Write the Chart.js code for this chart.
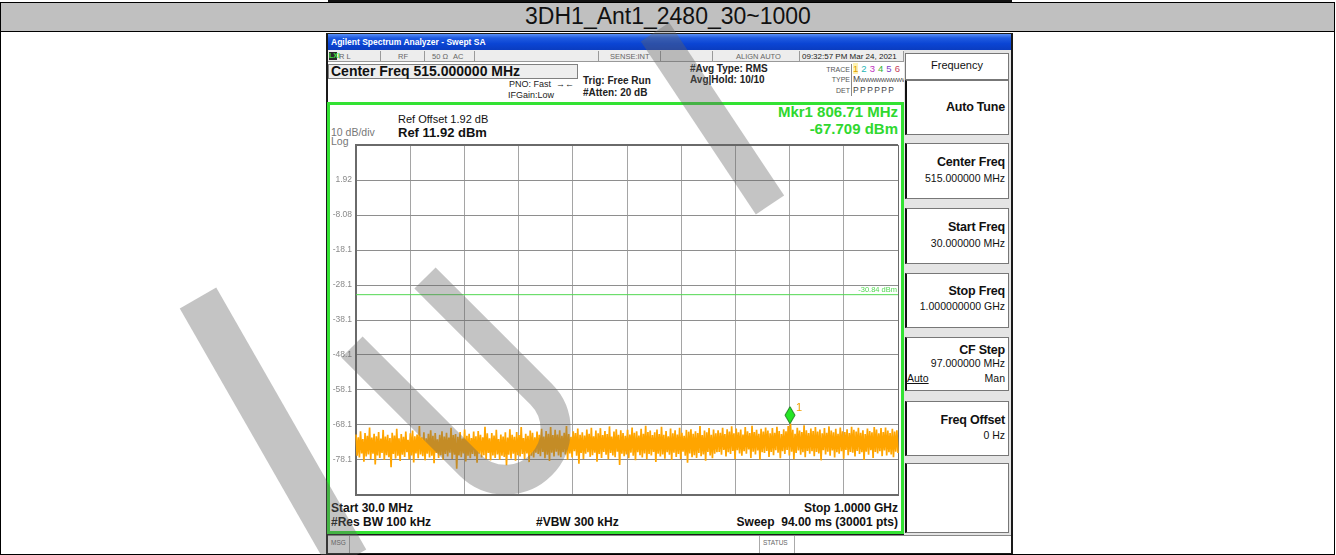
<!DOCTYPE html>
<html><head><meta charset="utf-8">
<script src="https://cdn.jsdelivr.net/npm/chart.js@4.4.0/dist/chart.umd.min.js"></script>
<style>
html,body{margin:0;padding:0;background:#fff;}
body{position:relative;width:1336px;height:555px;overflow:hidden;font-family:"Liberation Sans",Arial,sans-serif;}
.a{position:absolute;white-space:pre;line-height:1;}
.b{font-weight:bold;}
.box{position:absolute;box-sizing:border-box;}
.sk{position:absolute;box-sizing:border-box;left:905px;width:104px;background:#fff;border:1px solid #777;border-left:2px solid #111;}
.skt{position:absolute;right:331px;font-weight:bold;font-size:12.5px;line-height:1;white-space:pre;color:#111;letter-spacing:-0.2px;}
.skv{position:absolute;right:331px;font-size:10.5px;line-height:1;white-space:pre;color:#111;}
.st{position:absolute;font-size:7.5px;line-height:1;color:#666;white-space:pre;}
.sd{position:absolute;top:51px;height:11px;width:1px;background:#9a9a9a;}
#cv{position:absolute;left:326px;top:136px;}
#wm{position:absolute;left:0;top:0;pointer-events:none;}
</style></head><body>

<!-- outer table -->
<div class="box" style="left:328px;top:0;width:684px;height:2px;background:#111;"></div>
<div class="box" style="left:0;top:2px;width:1335px;height:553px;border:1px solid #000;"></div>
<div class="box" style="left:1px;top:3px;width:1333px;height:29px;background:#c0c0c0;border-bottom:1px solid #000;"></div>
<div class="a" style="left:0;width:1336px;text-align:center;top:5px;font-size:23px;color:#111;">3DH1_Ant1_2480_30~1000</div>

<!-- screenshot frame -->
<div class="box" style="left:326px;top:33px;width:687px;height:521px;background:#1a1a1a;"></div>
<div class="box" style="left:328px;top:34px;width:683px;height:16px;background:linear-gradient(to bottom,#5a8ff5 0%,#1f5be0 25%,#0b45d4 60%,#0a3cc0 100%);"></div>
<div class="a b" style="left:331px;top:38px;font-size:8.5px;color:#fff;">Agilent Spectrum Analyzer - Swept SA</div>

<!-- status row -->
<div class="box" style="left:328px;top:50px;width:683px;height:12px;background:#ededed;border-bottom:1px solid #999;"></div>
<div class="box" style="left:329px;top:52px;width:8px;height:8px;background:#2a2a2a;"></div>
<div class="a b" style="left:329px;top:52px;font-size:7px;color:#3ce03c;">LXI</div>
<div class="st" style="left:339px;top:53px;">R L</div>
<div class="sd" style="left:380px;"></div>
<div class="st" style="left:398px;top:53px;">RF</div>
<div class="sd" style="left:424px;"></div>
<div class="st" style="left:432px;top:53px;">50 Ω</div>
<div class="st" style="left:453px;top:53px;">AC</div>
<div class="sd" style="left:474px;"></div>
<div class="sd" style="left:598px;"></div>
<div class="st" style="left:610px;top:53px;">SENSE:INT</div>
<div class="sd" style="left:660px;"></div>
<div class="sd" style="left:712px;"></div>
<div class="st" style="left:736px;top:53px;">ALIGN AUTO</div>
<div class="sd" style="left:799px;"></div>
<div class="st" style="left:802px;top:53px;font-size:8px;color:#222;">09:32:57 PM Mar 24, 2021</div>
<div class="sd" style="left:903px;"></div>

<!-- header info area -->
<div class="box" style="left:328px;top:62px;width:577px;height:41px;background:#fff;"></div>
<div class="box" style="left:328px;top:64px;width:250px;height:15px;background:#eeeeee;border:1px solid #808080;"></div>
<div class="a b" style="left:331px;top:64px;font-size:14px;color:#111;">Center Freq 515.000000 MHz</div>
<div class="a" style="left:509px;top:80px;font-size:9px;color:#222;">PNO: Fast  →←</div>
<div class="a" style="left:508px;top:91px;font-size:9px;color:#222;">IFGain:Low</div>
<div class="a b" style="left:583px;top:76px;font-size:10px;color:#222;">Trig: Free Run</div>
<div class="a b" style="left:583px;top:88px;font-size:10px;color:#222;">#Atten: 20 dB</div>
<div class="a b" style="left:690px;top:64px;font-size:10px;color:#222;">#Avg Type: RMS</div>
<div class="a b" style="left:690px;top:75px;font-size:10px;color:#222;">Avg|Hold: 10/10</div>
<div class="a" style="right:486px;top:66px;font-size:7px;color:#555;">TRACE</div>
<div class="a" style="right:486px;top:76px;font-size:7px;color:#555;">TYPE</div>
<div class="a" style="right:486px;top:87px;font-size:7px;color:#555;">DET</div>
<div class="box" style="left:851px;top:64px;width:52px;height:32px;border-left:1px solid #888;"></div>
<div class="a" style="left:853px;top:64px;font-size:9.5px;letter-spacing:0.2px;"><span style="color:#e0a000;background:#fff3b0;">1</span> <span style="color:#1fb5b5">2</span> <span style="color:#c030c0">3</span> <span style="color:#33b033">4</span> <span style="color:#8040c8">5</span> <span style="color:#c83c5a">6</span></div>
<div class="a" style="left:853px;top:75px;font-size:8.5px;color:#444;">M<span style="font-size:6px;letter-spacing:-0.5px;">WWWWWWWWW</span></div>
<div class="a" style="left:853px;top:86px;font-size:8.5px;color:#444;letter-spacing:1.4px;">PPPPPP</div>

<!-- softkey panel -->
<div class="box" style="left:904px;top:50px;width:107px;height:503px;background:#e4e4e4;"></div>
<div class="sk" style="top:53px;height:27px;border-left:1px solid #777;"></div>
<div class="a" style="left:905px;width:104px;text-align:center;top:60px;font-size:11px;color:#111;">Frequency</div>
<div class="sk" style="top:80px;height:55px;"></div>
<div class="skt" style="top:101px;">Auto Tune</div>
<div class="sk" style="top:143px;height:56px;"></div>
<div class="skt" style="top:156px;">Center Freq</div>
<div class="skv" style="top:173px;">515.000000 MHz</div>
<div class="sk" style="top:208px;height:56px;"></div>
<div class="skt" style="top:221px;">Start Freq</div>
<div class="skv" style="top:238px;">30.000000 MHz</div>
<div class="sk" style="top:273px;height:55px;"></div>
<div class="skt" style="top:285px;">Stop Freq</div>
<div class="skv" style="top:301px;">1.000000000 GHz</div>
<div class="sk" style="top:337px;height:54px;"></div>
<div class="skt" style="top:344px;">CF Step</div>
<div class="skv" style="top:358px;">97.000000 MHz</div>
<div class="a" style="left:907px;top:373px;font-size:10.5px;color:#111;text-decoration:underline;">Auto</div>
<div class="skv" style="top:373px;">Man</div>
<div class="sk" style="top:401px;height:55px;"></div>
<div class="skt" style="top:414px;">Freq Offset</div>
<div class="skv" style="top:430px;">0 Hz</div>
<div class="sk" style="top:463px;height:70px;"></div>

<!-- display frame -->
<div class="box" style="left:327px;top:102px;width:577px;height:432px;background:#fff;border:3px solid #33e233;"></div>
<div class="a b" style="right:438px;top:104px;font-size:15px;color:#2fd82f;">Mkr1 806.71 MHz</div>
<div class="a b" style="right:438px;top:121px;font-size:15px;color:#2fd82f;">-67.709 dBm</div>
<div class="a" style="left:398px;top:114px;font-size:11px;color:#111;">Ref Offset 1.92 dB</div>
<div class="a b" style="left:398px;top:126px;font-size:13px;color:#111;">Ref 11.92 dBm</div>
<div class="a" style="left:331px;top:127px;font-size:10.5px;color:#777;">10 dB/div</div>
<div class="a" style="left:331px;top:136px;font-size:10.5px;color:#777;">Log</div>
<div class="a b" style="left:331px;top:502px;font-size:12px;color:#111;">Start 30.0 MHz</div>
<div class="a b" style="right:438px;top:502px;font-size:12px;color:#111;">Stop 1.0000 GHz</div>
<div class="a b" style="left:331px;top:516px;font-size:12px;color:#111;">#Res BW 100 kHz</div>
<div class="a b" style="left:536px;top:516px;font-size:12px;color:#111;">#VBW 300 kHz</div>
<div class="a b" style="right:438px;top:516px;font-size:12px;color:#111;">Sweep  94.00 ms (30001 pts)</div>

<!-- msg row -->
<div class="box" style="left:328px;top:535px;width:683px;height:18px;background:#fff;border-top:1px solid #888;"></div>
<div class="st" style="left:331px;top:540px;font-size:6.5px;">MSG</div>
<div class="box" style="left:349px;top:536px;width:1px;height:17px;background:#aaa;"></div>
<div class="box" style="left:759px;top:536px;width:1px;height:17px;background:#aaa;"></div>
<div class="st" style="left:763px;top:540px;font-size:6.5px;">STATUS</div>
<div class="box" style="left:794px;top:536px;width:1px;height:17px;background:#aaa;"></div>

<canvas id="cv" width="578" height="368"></canvas>

<!-- translucent watermark strokes laid over the page -->
<svg id="wm" width="1336" height="555" viewBox="0 0 1336 555">
  <g fill="none" stroke="rgba(100,100,100,0.38)" stroke-linecap="butt" stroke-linejoin="round">
    <path d="M198,298 L348,560" stroke-width="42"/>
    <path d="M352,347 L470,465 A50,50 0 0 0 541,394 L425,278" stroke-width="30"/>
    <path d="M655,32 L770,205" stroke-width="34"/>
  </g>
</svg>

<script>
// ---- axis definitions ----
const freqStartMHz = 30;
const freqStopMHz = 1000;
const xGridMHz = [30, 127, 224, 321, 418, 515, 612, 709, 806, 903, 1000];
const yRefDbm = 11.92;
const yBottomDbm = -88.08;
const yGridDbm = [-88.08, -78.08, -68.08, -58.08, -48.08, -38.08, -28.08, -18.08, -8.08, 1.92, 11.92];
const yTickLabels = ['', '-78.1', '-68.1', '-58.1', '-48.1', '-38.1', '-28.1', '-18.1', '-8.08', '1.92', ''];

// ---- display line & marker ----
const displayLineDbm = -30.84;
const displayLineText = '-30.84 dBm';
const markerFreqMHz = 806.71;
const markerDbm = -67.709;
const markerLabel = '1';

// ---- trace (dBm), read left→right across the sweep ----
const traceDbm = [
-70.8,-76.9,-71.6,-77.4,-69.9,-76.2,-72.1,-78.6,-70.4,-77.1,-71.2,-76.5,-68.8,-77.8,-71.7,-76.3,-70.6,-79.4,-71.3,-76.8,
-70.1,-77.5,-72.0,-76.1,-69.5,-78.1,-71.4,-76.7,-70.9,-77.3,-71.8,-80.2,-70.3,-76.4,-71.1,-77.7,-69.2,-76.9,-71.9,-78.4,
-70.7,-76.6,-71.5,-77.2,-70.0,-75.9,-72.3,-77.9,-70.5,-76.8,-69.7,-78.8,-71.3,-76.2,-70.8,-77.6,-68.4,-76.5,-71.6,-77.0,
-70.2,-78.2,-71.9,-76.3,-70.6,-77.4,-69.6,-76.9,-71.2,-79.0,-70.4,-76.1,-72.2,-77.5,-70.9,-76.7,-69.9,-78.0,-71.4,-76.4,
-70.3,-77.1,-71.7,-76.0,-68.9,-77.8,-71.0,-76.6,-70.7,-80.6,-71.5,-76.8,-70.1,-77.3,-72.0,-76.2,-69.4,-78.5,-71.2,-76.9,
-70.6,-77.6,-71.8,-76.4,-70.0,-77.0,-71.3,-78.9,-69.8,-76.3,-70.9,-77.4,-71.6,-76.7,-68.6,-77.9,-70.5,-76.1,-71.9,-78.2,
-70.4,-76.8,-71.1,-77.5,-69.5,-76.5,-72.1,-78.0,-70.8,-76.9,-71.4,-77.2,-70.2,-79.6,-71.7,-76.6,-69.3,-77.7,-70.9,-76.3,
-71.5,-78.3,-70.1,-76.7,-71.0,-77.1,-68.7,-76.4,-71.8,-77.8,-70.6,-76.2,-71.2,-78.7,-69.7,-76.9,-70.3,-77.4,-71.6,-76.0,
-70.0,-76.4,-70.9,-77.0,-69.2,-75.8,-71.4,-77.6,-69.8,-76.6,-70.6,-78.4,-68.7,-76.0,-71.0,-77.1,-69.5,-75.7,-70.8,-76.8,
-69.6,-77.3,-71.2,-75.9,-70.3,-76.5,-68.4,-78.0,-70.7,-76.2,-71.5,-77.4,-69.9,-75.6,-70.4,-76.9,-69.1,-79.2,-70.9,-76.1,
-70.2,-77.8,-71.1,-76.3,-69.4,-75.9,-70.6,-77.2,-68.9,-76.7,-71.3,-76.0,-69.7,-78.6,-70.5,-76.4,-69.0,-77.5,-71.0,-75.8,
-69.8,-76.6,-70.7,-77.9,-68.5,-76.1,-71.4,-76.8,-70.0,-77.3,-69.3,-75.7,-70.9,-79.5,-69.6,-76.3,-70.4,-77.0,-71.2,-76.5,
-69.5,-77.6,-70.8,-76.0,-68.8,-76.9,-70.3,-78.2,-69.9,-75.9,-71.1,-76.7,-69.2,-77.4,-70.6,-76.2,-68.3,-77.9,-70.1,-76.4,
-69.7,-76.8,-71.0,-75.8,-70.2,-78.7,-69.4,-76.3,-70.7,-77.1,-68.6,-76.5,-70.9,-77.7,-69.8,-75.9,-71.3,-76.6,-69.1,-78.1,
-70.5,-76.0,-69.6,-77.2,-70.8,-76.4,-68.9,-77.8,-70.3,-75.7,-71.2,-76.9,-69.5,-78.9,-70.0,-76.2,-69.3,-77.3,-70.6,-76.7,
-69.9,-77.5,-70.4,-76.1,-68.4,-77.0,-71.0,-76.5,-69.7,-78.3,-70.2,-75.8,-69.0,-76.8,-70.9,-77.6,-69.4,-76.3,-70.5,-75.9,
-69.6,-75.8,-70.3,-76.6,-68.9,-75.2,-70.7,-77.1,-69.3,-75.9,-70.0,-76.4,-68.5,-75.5,-70.5,-77.8,-69.1,-75.3,-70.2,-76.2,
-69.4,-76.9,-70.8,-75.6,-68.7,-76.3,-69.9,-75.1,-70.4,-77.5,-68.3,-75.7,-70.1,-76.5,-69.5,-75.4,-70.6,-78.0,-69.2,-75.9,
-70.0,-76.1,-68.8,-75.5,-69.7,-77.2,-70.5,-75.8,-69.0,-76.7,-70.3,-75.3,-68.6,-76.0,-69.8,-77.6,-70.7,-75.6,-69.3,-76.4,
-69.9,-75.2,-68.4,-76.8,-67.7,-75.7,-69.5,-77.9,-70.6,-76.1,-68.9,-75.4,-69.7,-76.6,-70.1,-75.9,-68.2,-77.3,-69.6,-75.5,
-70.4,-76.3,-69.1,-75.6,-69.8,-77.0,-68.7,-75.8,-70.0,-76.2,-69.4,-78.2,-70.5,-75.3,-69.0,-76.5,-70.3,-75.7,-68.5,-76.9,
-69.7,-75.4,-70.2,-77.4,-69.2,-75.9,-70.6,-76.3,-68.8,-75.6,-69.9,-77.7,-70.1,-75.2,-69.3,-76.7,-70.4,-75.8,-68.6,-76.0,
-69.5,-77.1,-70.0,-75.5,-68.9,-76.4,-70.3,-75.9,-69.6,-78.1,-70.7,-75.7,-69.1,-76.6,-69.8,-75.3,-70.2,-77.5,-68.7,-75.8,
-69.4,-76.2,-70.5,-75.6,-69.0,-77.0,-70.1,-75.4,-68.8,-76.8,-69.7,-75.9,-70.4,-76.5,-69.2,-77.3,-70.0,-75.7,-69.6,-76.1
];
const tracePointLabels = traceDbm.map((_, i) => String(i));

// ---- styles ----
const traceColor = '#ffa500';
const displayLineColor = '#52d852';
const frameColor = '#6a6a6a';

function markerImage() {
  const c = document.createElement('canvas');
  c.width = 12; c.height = 36;
  const g = c.getContext('2d');
  g.beginPath();
  g.moveTo(6, 1); g.lineTo(11, 9.5); g.lineTo(6, 18); g.lineTo(1, 9.5); g.closePath();
  g.fillStyle = '#25e625'; g.fill();
  g.lineWidth = 1; g.strokeStyle = '#1d7d1d'; g.stroke();
  return c;
}

const overlayText = {
  id: 'overlayText',
  afterDatasetsDraw(chart) {
    const { ctx, chartArea } = chart;
    const xs = chart.scales.x, ys = chart.scales.y;
    ctx.save();
    ctx.font = '7.5px "Liberation Sans", Arial, sans-serif';
    ctx.fillStyle = displayLineColor;
    ctx.textAlign = 'right';
    ctx.textBaseline = 'bottom';
    ctx.fillText(displayLineText, chartArea.right - 1, ys.getPixelForValue(displayLineDbm) - 1);
    ctx.font = '11px "Liberation Sans", Arial, sans-serif';
    ctx.fillStyle = '#f0a000';
    ctx.textAlign = 'left';
    ctx.textBaseline = 'alphabetic';
    ctx.fillText(markerLabel, xs.getPixelForValue(markerFreqMHz) + 6, ys.getPixelForValue(markerDbm) - 13);
    ctx.restore();
  }
};

new Chart(document.getElementById('cv'), {
  type: 'line',
  data: {
    labels: tracePointLabels,
    datasets: [
      { data: [{ x: markerFreqMHz, y: markerDbm }], type: 'scatter', xAxisID: 'x', yAxisID: 'y',
        pointStyle: markerImage(), pointRadius: 5, order: 0 },
      { data: [{ x: freqStartMHz, y: displayLineDbm }, { x: freqStopMHz, y: displayLineDbm }], xAxisID: 'x', yAxisID: 'y',
        borderColor: displayLineColor, borderWidth: 1, pointRadius: 0, order: 1 },
      { data: traceDbm, xAxisID: 'xi', yAxisID: 'y', borderColor: traceColor, borderWidth: 1.7,
        pointRadius: 0, tension: 0, order: 2 }
    ]
  },
  options: {
    responsive: false,
    animation: false,
    events: [],
    layout: { padding: { left: 0, right: 4, top: 6.7, bottom: 5.7 } },
    plugins: { legend: { display: false }, tooltip: { enabled: false } },
    scales: {
      xi: { type: 'category', display: false, offset: false },
      x: {
        type: 'linear', position: 'bottom', min: freqStartMHz, max: freqStopMHz,
        afterBuildTicks: s => { s.ticks = xGridMHz.map(v => ({ value: v })); },
        ticks: { display: false },
        grid: { drawTicks: false, color: c => (c.tick && c.tick.value === freqStopMHz) ? frameColor : '#a5a5a5', lineWidth: 1 },
        border: { color: frameColor, width: 2 }
      },
      y: {
        type: 'linear', position: 'left', min: yBottomDbm, max: yRefDbm,
        afterBuildTicks: s => { s.ticks = yGridDbm.map(v => ({ value: v })); },
        afterFit: s => { s.width = 30; },
        ticks: { callback: (v, i) => yTickLabels[i], color: '#8a8a8a', padding: 4,
          font: { size: 8.5, family: '"Liberation Sans", Arial, sans-serif' } },
        grid: { drawTicks: false, color: c => (c.tick && c.tick.value === yRefDbm) ? frameColor : '#8e8e8e',
          lineWidth: c => (c.tick && c.tick.value === yRefDbm) ? 2 : 1 },
        border: { color: frameColor, width: 2 }
      }
    }
  },
  plugins: [overlayText]
});
</script>
</body></html>
